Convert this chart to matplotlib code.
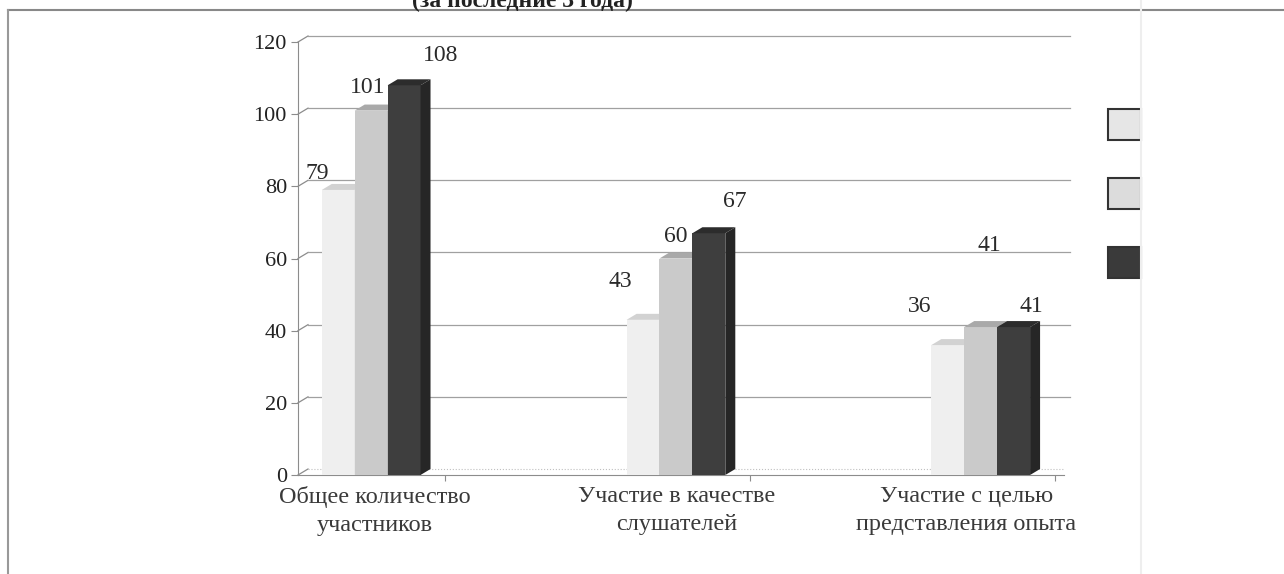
import matplotlib.pyplot as plt
from matplotlib.patches import Polygon, Rectangle
from matplotlib.lines import Line2D

categories = ["Общее количество\nучастников",
              "Участие в качестве\nслушателей",
              "Участие с целью\nпредставления опыта"]
series_a = [79, 43, 36]
series_b = [101, 60, 41]
series_c = [108, 67, 41]
y_ticks = [0, 20, 40, 60, 80, 100, 120]

front_colors = ["#efefef", "#cacaca", "#3e3e3e"]
top_colors = ["#d2d2d2", "#a9a9a9", "#2c2c2c"]
side_colors = ["#dadada", "#a3a3a3", "#262626"]
legend_colors = ["#e6e6e6", "#dcdcdc", "#3a3a3a"]
# label offsets: x in bar widths, y in data units (series x category)
label_dx = [[-0.65, -0.68, -0.85], [-0.12, 0.0, 0.27], [1.1, 0.8, 0.55]]
label_dy = [[4.6, 10.5, 10.8], [6.3, 6.2, 22.7], [8.3, 8.9, 5.8]]
cat_label_dx = [0.0, -0.01, -0.06]

plt.rcParams["font.family"] = ["Liberation Serif", "DejaVu Serif"]

fig = plt.figure(figsize=(12.84, 5.74), dpi=100)
ax_left, ax_bottom, ax_w_px, ax_h_px = 298, 475, 772, 433
ax = fig.add_axes([ax_left / 1284, 1 - ax_bottom / 574, ax_w_px / 1284, ax_h_px / 574])
xmin, xmax = -0.253, 2.28
ax.set_xlim(xmin, xmax)
ax.set_ylim(0, 120)

# depth of the pseudo 3D effect, converted to data units
dx = 10 / ax_w_px * (xmax - xmin)
dy = 6 / ax_h_px * 120

# back wall grid lines
for t in y_ticks:
    ax.plot([xmin, xmin + dx], [t, t + dy], color="#8c8c8c", lw=0.9, clip_on=False)
    if t > 0:
        ax.plot([xmin + dx, xmax], [t + dy, t + dy], color="#a0a0a0", lw=0.9, clip_on=False)
ax.plot([xmin + dx, 2.26], [dy, dy], color="#c0c0c0", lw=0.8, ls=":", clip_on=False)

width = 0.108
all_series = [series_a, series_b, series_c]
for s, vals in enumerate(all_series):
    for i, v in enumerate(vals):
        x0 = i - 0.175 + s * width
        x1 = x0 + width
        ax.bar(x0, v, width=width, align="edge", color=front_colors[s],
               edgecolor="none", zorder=3 + s)
        ax.add_patch(Polygon([(x0, v), (x1, v), (x1 + dx, v + dy), (x0 + dx, v + dy)],
                             closed=True, facecolor=top_colors[s], edgecolor="none",
                             zorder=3 + s))
        ax.add_patch(Polygon([(x1, 0), (x1 + dx, dy), (x1 + dx, v + dy), (x1, v)],
                             closed=True, facecolor=side_colors[s], edgecolor="none",
                             zorder=3 + s))
        ax.text(x0 + width / 2 + label_dx[s][i] * width, v + label_dy[s][i], str(v),
                ha="center", va="center", fontsize=17, color="#2a2a2a", zorder=10)

ax.set_yticks(y_ticks)
ax.set_yticklabels([str(t) for t in y_ticks], fontsize=16, color="#222222")
ax.tick_params(axis="y", length=5, color="#8c8c8c", pad=3)
ax.set_xticks([i + 0.23 for i in range(3)])
ax.set_xticklabels([])
ax.tick_params(axis="x", length=4, color="#8c8c8c")
for i, c in enumerate(categories):
    ax.text(i + cat_label_dx[i], -3.0, c, ha="center", va="top", fontsize=17.5,
            color="#3a3a3a", linespacing=1.45)

for side in ["top", "right"]:
    ax.spines[side].set_visible(False)
ax.spines["left"].set_color("#8c8c8c")
ax.spines["bottom"].set_color("#8c8c8c")
ax.spines["bottom"].set_bounds(xmin, 2.26)

# legend boxes (labels not visible in the source)
for k, c in enumerate(legend_colors):
    fig.patches.append(Rectangle((1108 / 1284, 1 - (140 + k * 69) / 574), 33 / 1284, 31 / 574,
                                 transform=fig.transFigure, facecolor=c,
                                 edgecolor="#333333", lw=1.5))

# page frame and clipped title
fig.lines.append(Line2D([8 / 1284, 1], [1 - 10 / 574, 1 - 10 / 574], transform=fig.transFigure,
                        color="#888888", lw=1.5))
fig.lines.append(Line2D([8 / 1284, 8 / 1284], [0, 1 - 10 / 574], transform=fig.transFigure,
                        color="#999999", lw=1.5))
fig.lines.append(Line2D([1141 / 1284, 1141 / 1284], [0, 1], transform=fig.transFigure,
                        color="#eeeeee", lw=1.5))
fig.text(522 / 1284, 1 - 1 / 574, "(за последние 3 года)", ha="center", va="center",
         fontsize=17, fontweight="bold", color="#222222")

fig.savefig("out.png", dpi=100)
